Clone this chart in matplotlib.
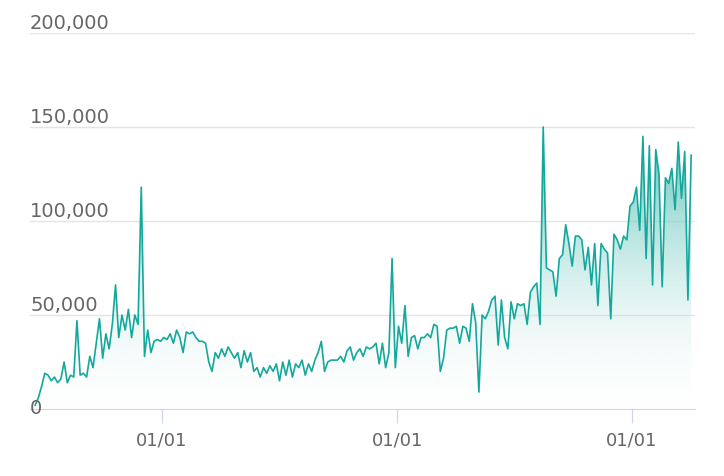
import numpy as np
import matplotlib
matplotlib.use("Agg")
import matplotlib.pyplot as plt
import matplotlib.dates as mdates
from matplotlib.patches import Polygon

start_date = "2019-06-18"
step_days = 5
values_k = [2,6,12,19,18,15,17,14,16,25,14,18,17,47,18,19,17,28,22,35,48,27,40,32,45,66,38,50,42,53,
38,50,45,118,28,42,30,36,37,36,38,37,40,35,42,38,30,41,40,41,38,36,36,35,25,20,30,27,32,28,
33,30,27,30,22,31,25,30,20,22,17,22,19,23,20,24,15,25,18,26,17,24,22,26,18,24,20,26,30,36,
20,25,26,26,26,28,25,31,33,26,30,32,28,33,32,33,35,24,35,22,30,80,22,44,35,55,28,38,39,32,
38,38,40,38,45,44,20,27,42,43,43,44,35,44,43,36,56,46,9,50,48,52,58,60,34,58,38,32,57,48,
56,55,56,45,62,65,67,45,150,75,74,73,60,80,82,98,88,76,92,92,90,74,86,66,88,55,88,85,83,48,
93,90,85,92,90,108,110,118,95,145,80,140,66,138,125,65,123,120,128,106,142,112,137,58,135]
y_ticks = [0, 50000, 100000, 150000, 200000]
x_tick_dates = ["2020-01-01", "2021-01-01", "2022-01-01"]
x_tick_label = "01/01"

dates = np.datetime64(start_date) + np.arange(len(values_k)) * np.timedelta64(step_days, "D")
x = mdates.date2num(dates.astype("datetime64[D]").astype(object))
y = np.array(values_k) * 1000.0

fig = plt.figure(figsize=(7.24, 4.76), dpi=100)
ax = fig.add_axes([30/724, 67/476, 665/724, 376/476])
line_c = "#14a89c"
ax.set_ylim(0, 200000)
xmin = x[0] - 8
xmax = mdates.date2num(np.datetime64("2022-01-01").astype(object)) + 98
ax.set_xlim(xmin, xmax)

grad = np.linspace(0.04, 0.85, 256).reshape(-1, 1)
cmap = matplotlib.colors.LinearSegmentedColormap.from_list("g", [(1,1,1,0), (0.08,0.66,0.61,1)])
im = ax.imshow(grad, aspect="auto", cmap=cmap, origin="lower",
               extent=[xmin, xmax, 0, y.max()], vmin=0, vmax=1, zorder=1)
poly = Polygon(np.column_stack([np.r_[x[0], x, x[-1]], np.r_[0, y, 0]]), closed=True,
               facecolor="none", edgecolor="none")
ax.add_patch(poly)
im.set_clip_path(poly)
ax.plot(x, y, color=line_c, lw=1.2, zorder=3)

for t in y_ticks:
    if t > 0:
        ax.axhline(t, color="#e3e3e8", lw=1, zorder=0)
    ax.text(0, t, f"{t:,}", transform=ax.get_yaxis_transform(), ha="left",
            va="bottom" if t > 0 else "center", fontsize=14, color="#666666",
            zorder=4)
ax.set_yticks([])
for s in ["top", "right", "left"]:
    ax.spines[s].set_visible(False)
ax.spines["bottom"].set_color("#ccd6eb")
xt = [mdates.date2num(np.datetime64(d).astype(object)) for d in x_tick_dates]
ax.set_xticks(xt)
ax.set_xticklabels([x_tick_label] * len(xt), fontsize=13, color="#666666")
ax.tick_params(axis="x", length=10, color="#ccd6eb", pad=6)
fig.savefig("out.png", dpi=100)
